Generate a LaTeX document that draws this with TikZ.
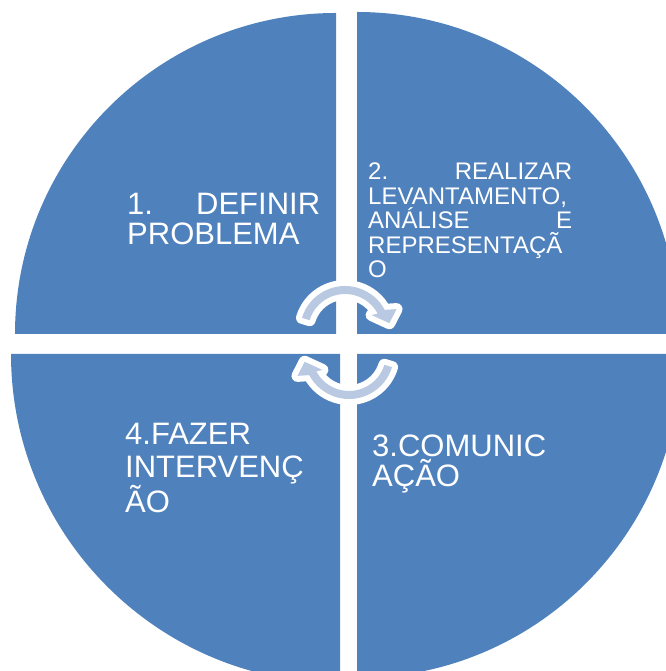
\documentclass[tikz,border=0pt]{standalone}
\usepackage{fontspec}
\setmainfont{Liberation Sans}
\definecolor{quadblue}{HTML}{4F81BD}
\definecolor{arrowblue}{HTML}{B9C9E1}
\tikzset{
  quadrant/.style={fill=quadblue},
  stepname/.style={anchor=base west, inner sep=0pt, text=white},
  cyclearrow/.pic={
    \path[fill=arrowblue, preaction={draw=white, line width=12bp, line join=round}]
      (163:45) arc[start angle=163, end angle=28, radius=45] -- (23:56) -- (10:45)
      -- (31:31) -- (28:37) arc[start angle=28, end angle=163, radius=37] -- cycle;
  }
}
\begin{document}
\begin{tikzpicture}[x=1bp, y=1bp]
  \useasboundingbox (0,0) rectangle (666,671);
  \clip (0,0) rectangle (666,671);

  \fill[quadrant] (336,337) -- ++(180:321) arc[start angle=180, end angle=90, radius=321] -- cycle;
  \fill[quadrant] (357,337) -- ++(90:322) arc[start angle=90, end angle=0, radius=322] -- cycle;
  \fill[quadrant] (340,317) -- ++(270:329) arc[start angle=270, end angle=180, radius=329] -- cycle;
  \fill[quadrant] (357,317) -- ++(0:324) arc[start angle=0, end angle=-90, radius=324] -- cycle;

  \node[stepname, font=\fontsize{31bp}{30bp}\selectfont] (definir) at (127,456)
    {\parbox[t]{193bp}{1.\hfill DEFINIR\\PROBLEMA}};
  \node[stepname, font=\fontsize{24bp}{24.5bp}\selectfont] (levantar) at (368,491)
    {\parbox[t]{204bp}{2.\hfill REALIZAR\\LEVANTAMENTO,\\ANÁLISE\hfill E\\REPRESENTAÇÃ\\O}};
  \node[stepname, font=\fontsize{31bp}{30bp}\selectfont] (comunicar) at (372,214)
    {\parbox[t]{200bp}{3.COMUNIC\\AÇÃO}};
  \node[stepname, font=\fontsize{31bp}{32.5bp}\selectfont] (intervir) at (125,226)
    {\parbox[t]{200bp}{4.FAZER\\INTERVENÇ\\ÃO}};

  \pic at (345,340) {cyclearrow};
  \pic[rotate=180] at (349,317) {cyclearrow};
\end{tikzpicture}
\end{document}
